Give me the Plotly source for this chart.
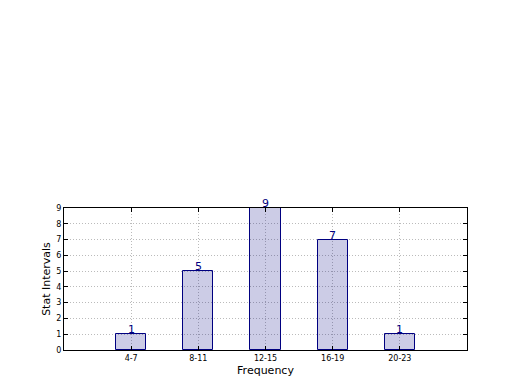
import plotly.graph_objects as go

categories = ["4-7", "8-11", "12-15", "16-19", "20-23"]
counts = [1, 5, 9, 7, 1]
y_ticks = list(range(0, 10))

x_pos = list(range(len(categories)))

fig = go.Figure()
fig.add_trace(go.Bar(
    x=x_pos, y=counts, width=0.45,
    marker=dict(color="rgba(0,0,128,0.2)", line=dict(color="navy", width=1)),
    cliponaxis=False,
))
for xp, c in zip(x_pos, counts):
    fig.add_annotation(
        x=xp, y=c, text=str(c), showarrow=False, yanchor="bottom",
        yshift=-4, font=dict(family="DejaVu Sans", size=11, color="navy"),
    )

fig.update_layout(
    width=520, height=390,
    margin=dict(l=64, r=53, t=208, b=40),
    plot_bgcolor="white", paper_bgcolor="white",
    showlegend=False,
    font=dict(family="DejaVu Sans", color="black"),
    bargap=0,
)
grid = dict(showgrid=True, gridcolor="#bbbbbb", griddash="1px,2px", gridwidth=1)
fig.update_xaxes(
    range=[-1, 5], tickmode="array", tickvals=x_pos, ticktext=categories,
    tickfont=dict(size=8), ticks="inside", ticklen=4, tickcolor="black",
    showline=True, linecolor="black", linewidth=1, mirror="ticks",
    zeroline=False, **grid,
    title=dict(text="Frequency", font=dict(size=11), standoff=4),
)
fig.update_yaxes(
    range=[0, 9], tickmode="array", tickvals=y_ticks,
    tickfont=dict(size=8), ticks="inside", ticklen=4, tickcolor="black",
    showline=True, linecolor="black", linewidth=1, mirror="ticks",
    zeroline=False, **grid,
    title=dict(text="Stat Intervals", font=dict(size=11), standoff=3),
)
fig.write_html("out.html")
